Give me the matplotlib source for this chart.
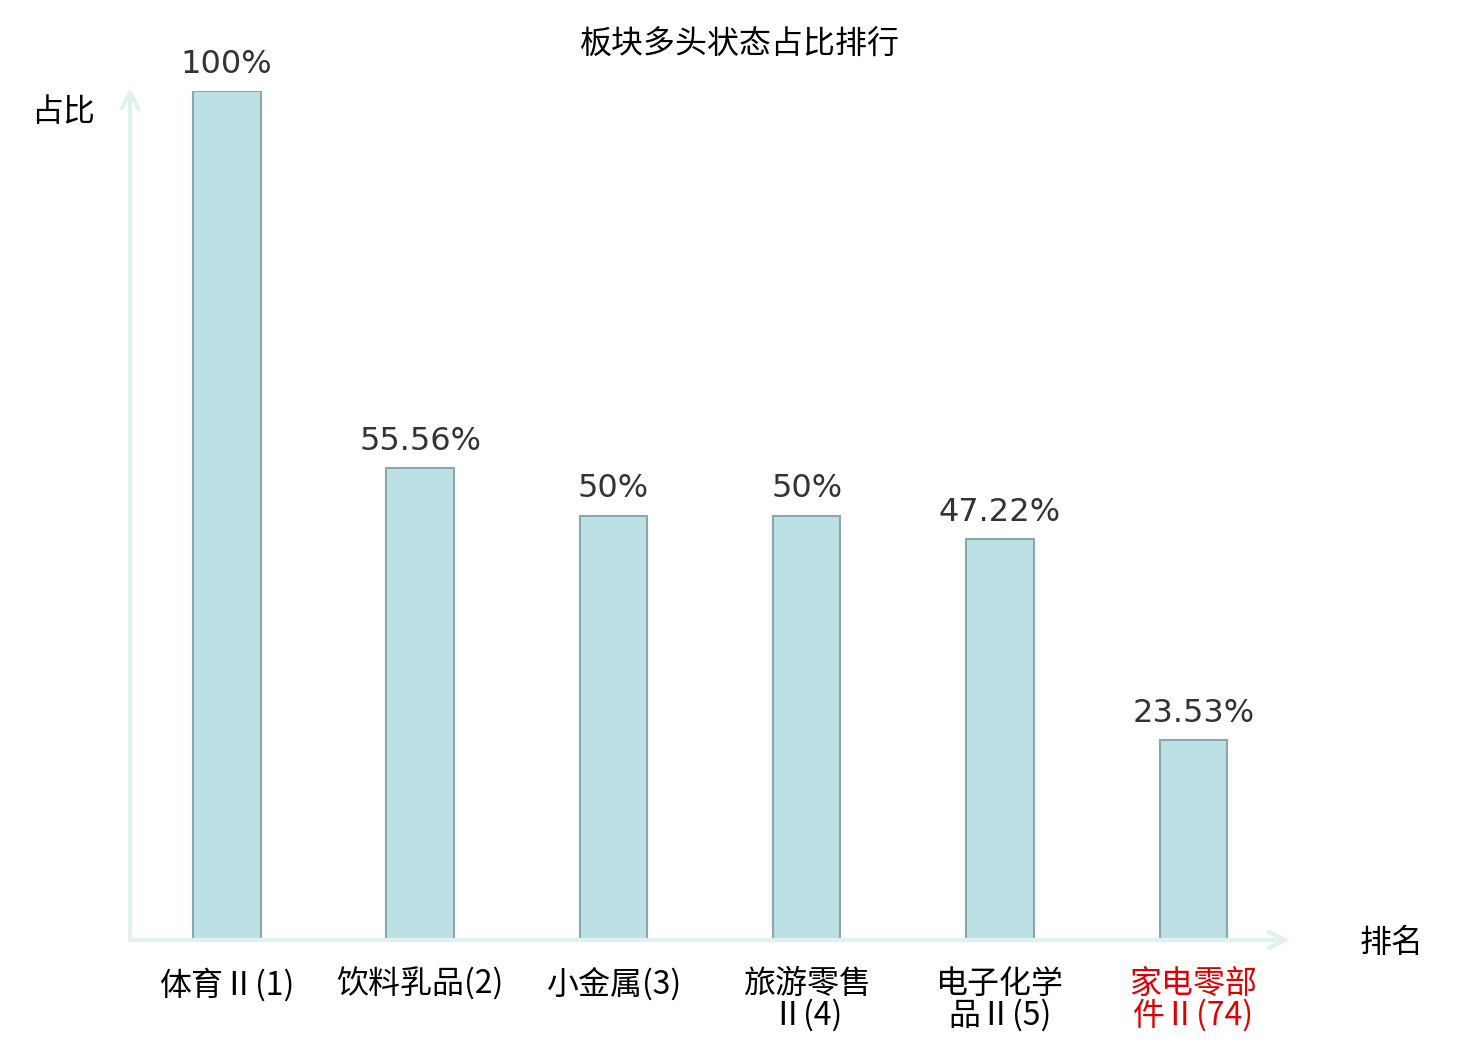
import numpy as np
import matplotlib.pyplot as plt

plt.rcParams['font.family'] = ['Noto Sans CJK SC', 'DejaVu Sans']

sectors = ['体育Ⅱ(1)', '饮料乳品(2)', '小金属(3)', '旅游零售\nⅡ(4)', '电子化学\n品Ⅱ(5)', '家电零部\n件Ⅱ(74)']
ratios = [100, 55.56, 50, 50, 47.22, 23.53]
labels = ['100%', '55.56%', '50%', '50%', '47.22%', '23.53%']

fig = plt.figure(figsize=(14.8, 10.4), dpi=100)
ax = fig.add_axes([130/1480, 1-940/1040, 1160/1480, 849/1040])

x = np.arange(len(sectors))
ax.bar(x, ratios, width=0.35, color='#bce0e3', edgecolor='#8aa8aa', linewidth=1.5, zorder=3)
for xi, v, t in zip(x, ratios, labels):
    ax.annotate(t, (xi, v), xytext=(0, 8), textcoords='offset points', ha='center', va='bottom',
                fontsize=23, color='#333333', family='DejaVu Sans')

ax.set_xlim(-0.5, 5.5)
ax.set_ylim(0, 100)
for s in ax.spines.values():
    s.set_visible(False)
ax.set_yticks([])
ax.set_xticks(x)
ax.set_xticklabels(sectors, fontsize=23, linespacing=0.98)
ax.tick_params(axis='x', length=0, pad=20)
ax.get_xticklabels()[-1].set_color('#e00000')

# axis arrows
acol = '#dff2ef'
ax.annotate('', xy=(1.0, 0), xytext=(0, 0), xycoords='axes fraction',
            arrowprops=dict(arrowstyle='->', color=acol, lw=3, mutation_scale=30, shrinkA=0, shrinkB=0),
            annotation_clip=False)
ax.annotate('', xy=(0, 1.004), xytext=(0, 0), xycoords='axes fraction',
            arrowprops=dict(arrowstyle='->', color=acol, lw=3, mutation_scale=30, shrinkA=0, shrinkB=0),
            annotation_clip=False)

fig.text(63/1480, 1-112/1040, '占比', fontsize=23, ha='center', va='center')
fig.text(1392/1480, 1-943/1040, '排名', fontsize=23, ha='center', va='center')
fig.text(740/1480, 1-45/1040, '板块多头状态占比排行', fontsize=23, ha='center', va='center')

fig.savefig('out.png', dpi=100)
